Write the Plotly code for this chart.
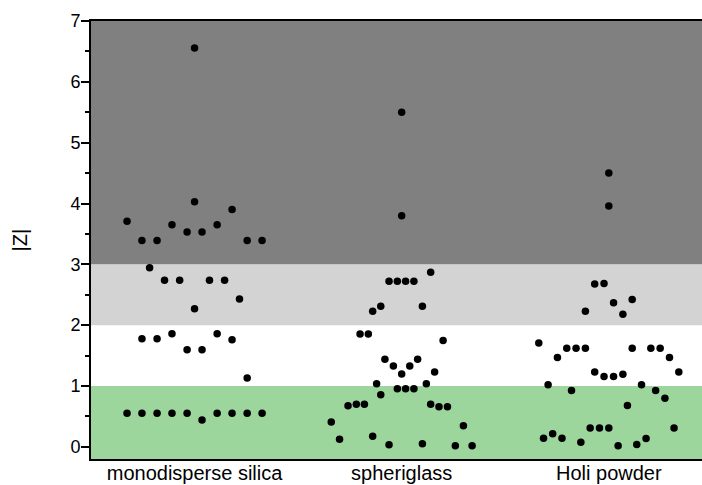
import plotly.graph_objects as go

categories = ["monodisperse silica", "spheriglass", "Holi powder"]
cat_pos = [1, 2, 3]

# |Z| values per category, with the horizontal swarm offset of each point (category units)
silica_z = [6.557, 4.03, 3.90, 3.71, 3.65, 3.65, 3.53, 3.53, 3.39, 3.39, 3.39, 3.39,
            2.944, 2.74, 2.74, 2.74, 2.74, 2.43, 2.27,
            1.776, 1.776, 1.86, 1.86, 1.76, 1.595, 1.595, 1.13,
            0.554, 0.554, 0.554, 0.554, 0.554, 0.554, 0.554, 0.554, 0.554, 0.44]
silica_jitter = [0, 0, 0.181, -0.326, -0.109, 0.109, -0.036, 0.036, -0.254, -0.181, 0.254, 0.326,
                 -0.217, -0.145, -0.072, 0.072, 0.145, 0.217, 0,
                 -0.254, -0.181, -0.109, 0.109, 0.181, -0.036, 0.036, 0.254,
                 -0.326, -0.254, -0.181, -0.109, -0.036, 0.109, 0.181, 0.254, 0.326, 0.036]

sphere_z = [5.50, 3.80, 2.87, 2.72, 2.72, 2.72, 2.72, 2.23, 2.31, 2.31,
            1.853, 1.853, 1.75, 1.44, 1.44, 1.33, 1.33, 1.196, 1.23, 1.036, 1.036,
            0.954, 0.954, 0.954, 0.855, 0.674, 0.702, 0.702, 0.70, 0.658, 0.658,
            0.41, 0.345, 0.126, 0.176, 0.033, 0.05, 0.016, 0.016]
sphere_jitter = [0, 0, 0.140, -0.061, -0.021, 0.019, 0.059, -0.140, -0.101, 0.100,
                 -0.201, -0.161, 0.200, -0.081, 0.077, -0.040, 0.039, 0, 0.159, -0.121, 0.119,
                 -0.021, 0.019, 0.059, -0.101, -0.259, -0.219, -0.180, 0.140, 0.180, 0.221,
                 -0.340, 0.298, -0.300, -0.140, -0.061, 0.100, 0.259, 0.340]

holi_z = [4.50, 3.96, 2.676, 2.686, 2.37, 2.42, 2.23, 2.18,
          1.705, 1.47, 1.62, 1.62, 1.62, 1.62, 1.62, 1.62, 1.47, 1.23,
          1.23, 1.156, 1.156, 1.195, 1.02, 1.02, 0.926, 0.926, 0.80, 0.68,
          0.31, 0.31, 0.31, 0.31, 0.143, 0.214, 0.143, 0.077, 0.016, 0.038, 0.137]
holi_jitter = [0, 0, -0.068, -0.023, 0.023, 0.113, -0.113, 0.068,
               -0.338, -0.248, -0.203, -0.158, -0.113, 0.113, 0.203, 0.248, 0.293, 0.338,
               -0.068, -0.023, 0.023, 0.068, -0.293, 0.158, -0.180, 0.226, 0.271, 0.090,
               -0.090, -0.045, 0, 0.315, -0.315, -0.271, -0.226, -0.135, 0.045, 0.135, 0.180]

# Background zones on the |Z| axis: (lower, upper, colour)
zone_bounds = [(-0.2, 1), (1, 2), (2, 3), (3, 7)]
zone_colors = ["#9dd69d", "#ffffff", "#d3d3d3", "#808080"]

y_ticks = [0, 1, 2, 3, 4, 5, 6, 7]

font = "Liberation Sans, Arial, sans-serif"

fig = go.Figure()

for pos, zs, jit in zip(cat_pos, [silica_z, sphere_z, holi_z],
                        [silica_jitter, sphere_jitter, holi_jitter]):
    fig.add_trace(go.Scatter(
        x=[pos + j for j in jit], y=zs, mode="markers",
        marker=dict(color="black", size=7.5, line=dict(width=0)),
        showlegend=False, hoverinfo="y"))

for (lo, hi), col in zip(zone_bounds, zone_colors):
    fig.add_shape(type="rect", xref="paper", yref="y", x0=0, x1=1, y0=lo, y1=hi,
                  fillcolor=col, line=dict(width=0), layer="below")

fig.add_annotation(text="|Z|", xref="paper", yref="paper", x=-0.117, y=0.5,
                   xanchor="center", yanchor="middle",
                   textangle=-90, showarrow=False,
                   font=dict(family=font, size=20, color="black"))

fig.update_layout(
    width=702, height=485,
    margin=dict(l=91, r=0, t=21, b=26),
    paper_bgcolor="white", plot_bgcolor="white",
    font=dict(family=font, size=18, color="black"),
    xaxis=dict(range=[0.5, 3.45], tickmode="array", tickvals=cat_pos, ticktext=categories,
               showgrid=False, zeroline=False, showline=True, linecolor="black",
               linewidth=2, mirror=True, ticks="", ticklen=0, automargin=False,
               ticklabelstandoff=-5,
               tickfont=dict(family=font, size=20)),
    yaxis=dict(range=[-0.2, 7], tickmode="array", tickvals=y_ticks, automargin=False,
               showgrid=False, zeroline=False, showline=True, linecolor="black",
               linewidth=2, ticks="outside", ticklen=8, tickwidth=2, tickcolor="black",
               ticklabelstandoff=-3,
               tickfont=dict(family=font, size=18),
               minor=dict(ticks="outside", ticklen=4, tickwidth=2, tickcolor="black", dtick=0.5,
                          showgrid=False)),
)

fig.write_html("out.html", config={"displayModeBar": False},
               post_script="document.body.style.margin='0px';document.body.style.overflow='hidden';")
